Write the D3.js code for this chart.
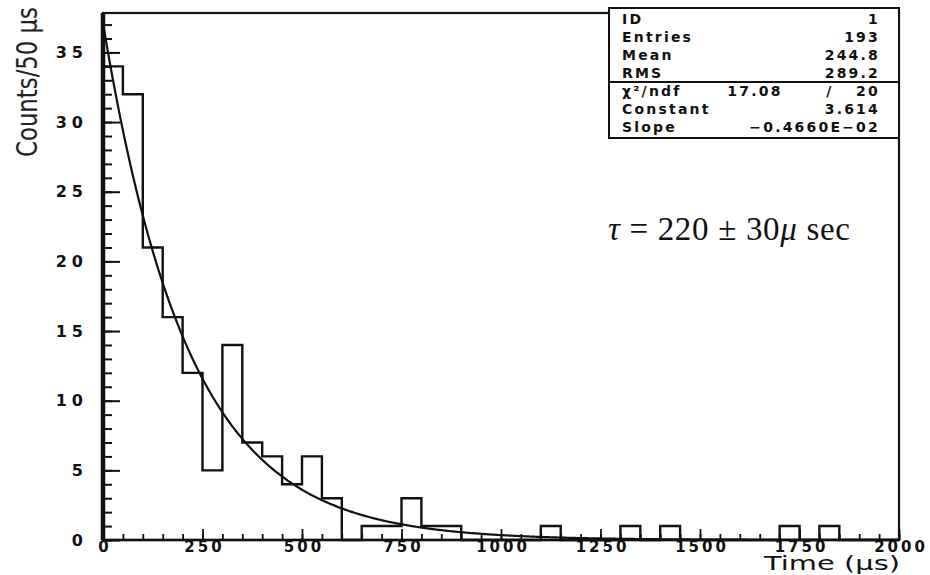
<!DOCTYPE html>
<html lang="en">
<head>
<meta charset="UTF-8">
<title>Decay time histogram</title>
<script src="https://d3js.org/d3.v7.min.js"></script>
<style>
  body { margin: 0; background: #fff; }
  .tick text { font-family: "DejaVu Sans", sans-serif; font-weight: bold; fill: #111; }
  .ylab .tick text { font-size: 16px; letter-spacing: 5px; }
  .xlab .tick text { font-size: 15px; letter-spacing: 3px; }
  .stat { font-family: "DejaVu Sans", sans-serif; font-weight: bold; font-size: 14px; letter-spacing: 2.2px; fill: #111; }
</style>
</head>
<body>
<svg id="chart" width="930" height="575"></svg>
<script>
// histogram: 50 us bins from 0 to 2000
const binWidth = 50;
const counts = [34, 32, 21, 16, 12, 5, 14, 7, 6, 4,
                6, 3, 0, 1, 1, 3, 1, 1, 0, 0,
                0, 0, 1, 0, 0, 0, 1, 0, 1, 0,
                0, 0, 0, 0, 1, 0, 1, 0, 0, 0];
const xTicks = [0, 250, 500, 750, 1000, 1250, 1500, 1750, 2000];
const yTicks = [0, 5, 10, 15, 20, 25, 30, 35];

// fit parameters from the stats box
const fitConstant = 3.614;
const fitSlope = -0.4660e-02;

const statLabels = ["ID", "Entries", "Mean", "RMS"];
const statValues = ["1", "193", "244.8", "289.2"];
const fitLabels = ["\u03C7\u00B2/ndf", "Constant", "Slope"];
const fitValues = ["20", "3.614", "\u22120.4660E\u221202"];

const svg = d3.select('#chart');
const plotL = 103, plotR = 899, plotT = 13, plotB = 540;

const x = d3.scaleLinear().domain([0, 2000]).range([plotL, plotR]);
const y = d3.scaleLinear().domain([0, 37.83]).range([plotB, plotT]);

// frame
svg.append('rect')
    .attr('x', plotL).attr('y', plotT)
    .attr('width', plotR - plotL).attr('height', plotB - plotT)
    .attr('fill', 'none').attr('stroke', '#111').attr('stroke-width', 2.2);

// y axis: minor + major ticks pointing inward
svg.append('g')
    .attr('transform', `translate(${plotL},0)`)
    .call(d3.axisLeft(y).tickValues(d3.range(0, 38)).tickSize(-9).tickFormat(''))
    .call(g => g.select('.domain').remove())
    .selectAll('line').attr('stroke', '#111').attr('stroke-width', 2);

svg.append('g')
    .attr('class', 'ylab')
    .attr('transform', `translate(${plotL},0)`)
    .call(d3.axisLeft(y).tickValues(yTicks).tickSizeInner(-17).tickSizeOuter(0).tickPadding(15))
    .call(g => g.select('.domain').remove())
    .call(g => g.selectAll('line').attr('stroke', '#111').attr('stroke-width', 2));

// x axis
svg.append('g')
    .attr('transform', `translate(0,${plotB})`)
    .call(d3.axisBottom(x).tickValues(d3.range(0, 2001, 50)).tickSize(-6).tickFormat(''))
    .call(g => g.select('.domain').remove())
    .selectAll('line').attr('stroke', '#111').attr('stroke-width', 1.8);

svg.append('g')
    .attr('class', 'xlab')
    .attr('transform', `translate(0,${plotB})`)
    .call(d3.axisBottom(x).tickValues(xTicks).tickFormat(d3.format('d'))
        .tickSizeInner(-11).tickSizeOuter(0).tickPadding(1))
    .call(g => g.select('.domain').remove())
    .call(g => g.selectAll('line').attr('stroke', '#111').attr('stroke-width', 1.8))
    .call(g => g.selectAll('text').attr('dx', '1.5px'));

// heavy axis lines
svg.append('line')
    .attr('x1', plotL).attr('x2', plotL).attr('y1', plotT).attr('y2', plotB)
    .attr('stroke', '#111').attr('stroke-width', 4.5);
svg.append('line')
    .attr('x1', plotL).attr('x2', plotR).attr('y1', plotB).attr('y2', plotB)
    .attr('stroke', '#111').attr('stroke-width', 2.6);

// histogram outline
const steps = [[0, 0]];
counts.forEach((c, i) => steps.push([i * binWidth, c]));
steps.push([counts.length * binWidth, counts[counts.length - 1]]);

const stepLine = d3.line()
    .x(d => x(d[0]))
    .y(d => y(d[1]))
    .curve(d3.curveStepAfter);

svg.append('path')
    .datum(steps)
    .attr('d', stepLine)
    .attr('fill', 'none')
    .attr('stroke', '#111')
    .attr('stroke-width', 2.4);

// exponential fit curve exp(constant + slope * t)
const fitPts = d3.range(0, 2001, 5).map(t => [t, Math.exp(fitConstant + fitSlope * t)]);
svg.append('path')
    .datum(fitPts)
    .attr('d', d3.line().x(d => x(d[0])).y(d => y(d[1])).curve(d3.curveBasis))
    .attr('fill', 'none')
    .attr('stroke', '#111')
    .attr('stroke-width', 2.2);

// stats box
const box = { x: 609, y: 8, w: plotR - 609, h: 130, split: 82 };
svg.append('rect')
    .attr('x', box.x).attr('y', box.y)
    .attr('width', box.w).attr('height', box.h)
    .attr('fill', '#fff').attr('stroke', '#111').attr('stroke-width', 2);
svg.append('line')
    .attr('x1', box.x).attr('x2', box.x + box.w)
    .attr('y1', box.split).attr('y2', box.split)
    .attr('stroke', '#111').attr('stroke-width', 2);

const rowY = [24, 42, 60, 78, 96, 114, 132];
statLabels.concat(fitLabels).forEach((t, i) => {
    svg.append('text').attr('class', 'stat')
        .attr('x', 622).attr('y', rowY[i]).text(t);
});
statValues.concat(fitValues).forEach((t, i) => {
    svg.append('text').attr('class', 'stat')
        .attr('x', 880).attr('y', rowY[i])
        .attr('text-anchor', 'end').text(t);
});
svg.append('text').attr('class', 'stat')
    .attr('x', 755).attr('y', rowY[4]).attr('text-anchor', 'middle').text('17.08');
svg.append('text').attr('class', 'stat')
    .attr('x', 830).attr('y', rowY[4]).attr('text-anchor', 'middle').text('/');

// axis titles
svg.append('text')
    .attr('transform', 'translate(37,82) rotate(-90)')
    .attr('text-anchor', 'middle')
    .attr('font-family', '"Liberation Sans Narrow", "DejaVu Sans Condensed", sans-serif')
    .attr('font-size', 29)
    .attr('textLength', 150)
    .attr('lengthAdjust', 'spacingAndGlyphs')
    .attr('fill', '#222')
    .text('Counts/50 \u03BCs');

svg.append('text')
    .attr('x', 832).attr('y', 570)
    .attr('text-anchor', 'middle')
    .attr('font-family', '"DejaVu Sans", sans-serif')
    .attr('font-size', 20)
    .attr('textLength', 136)
    .attr('lengthAdjust', 'spacingAndGlyphs')
    .attr('fill', '#111')
    .text('Time (\u03BCs)');

// lifetime annotation
const tau = svg.append('text')
    .attr('x', 608).attr('y', 240)
    .attr('font-family', '"Liberation Serif", "Times New Roman", serif')
    .attr('font-size', 33)
    .attr('textLength', 242)
    .attr('fill', '#111');
tau.append('tspan').attr('font-style', 'italic').text('\u03C4');
tau.append('tspan').text(' = 220 \u00B1 30');
tau.append('tspan').attr('font-style', 'italic').text('\u03BC');
tau.append('tspan').text(' sec');
</script>
</body>
</html>
